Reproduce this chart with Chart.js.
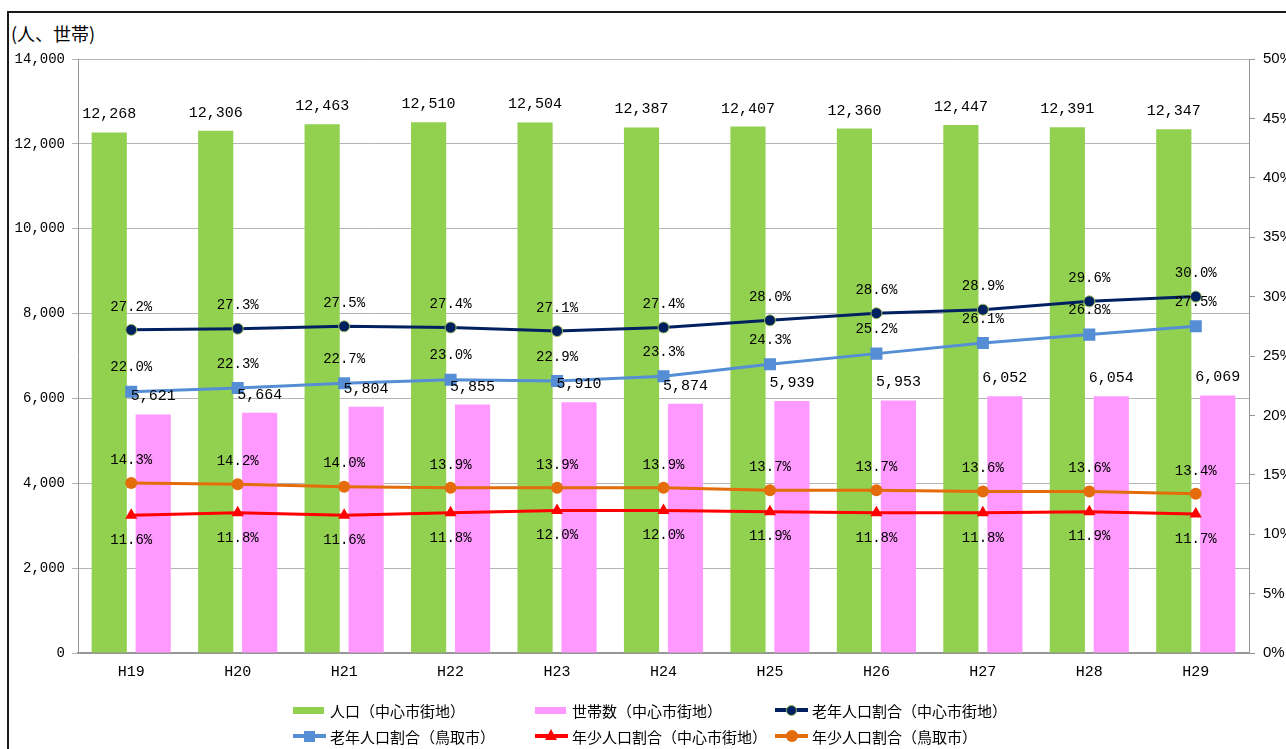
<!DOCTYPE html>
<html lang="ja">
<head>
<meta charset="utf-8">
<script src="https://cdn.jsdelivr.net/npm/chart.js@4.4.1/dist/chart.umd.min.js"></script>
<style>
  html, body { margin: 0; padding: 0; background: #fff; overflow: hidden; }
  #wrap { position: relative; width: 1286px; height: 749px; }
  #frame { position: absolute; left: 7px; top: 11px; width: 1300px; height: 760px;
           border-left: 2px solid #1a1a1a; border-top: 2px solid #1a1a1a; }
  #unit { position: absolute; left: 11px; top: 20px; font: 18px "Noto Sans CJK JP"; color: #000; }
  #chartBox { position: absolute; left: 0; top: 0; width: 1286px; height: 749px; }
  #legend { position: absolute; left: 0; top: 0; width: 1286px; height: 749px; pointer-events: none;
            font: 15px "Noto Sans CJK JP"; color: #000; }
  .lg-item { position: absolute; display: flex; align-items: center; height: 22px; white-space: nowrap; }
  .lg-sw { position: relative; width: 33px; height: 22px; margin-right: 4px; }
  .lg-bar { position: absolute; left: 0; top: 8px; width: 31px; height: 7px; }
  .lg-line { position: absolute; left: 0; top: 9px; width: 33px; height: 4px; }
  .lg-mk { position: absolute; }
</style>
</head>
<body>
<div id="wrap">
  <div id="frame"></div>
  <div id="unit">(人、世帯)</div>
  <div id="chartBox"><canvas id="chart"></canvas></div>
  <div id="legend"></div>
</div>
<script>
// 年度
const years = ['H19', 'H20', 'H21', 'H22', 'H23', 'H24', 'H25', 'H26', 'H27', 'H28', 'H29'];

// 人口・世帯数（中心市街地）
const population = [12268, 12306, 12463, 12510, 12504, 12387, 12407, 12360, 12447, 12391, 12347];
const households = [5621, 5664, 5804, 5855, 5910, 5874, 5939, 5953, 6052, 6054, 6069];

// 年齢別人口割合（%）
const elderlyCenter = [27.2, 27.3, 27.5, 27.4, 27.1, 27.4, 28.0, 28.6, 28.9, 29.6, 30.0];
const elderlyCity = [22.0, 22.3, 22.7, 23.0, 22.9, 23.3, 24.3, 25.2, 26.1, 26.8, 27.5];
const youthCenter = [11.6, 11.8, 11.6, 11.8, 12.0, 12.0, 11.9, 11.8, 11.8, 11.9, 11.7];
const youthCity = [14.3, 14.2, 14.0, 13.9, 13.9, 13.9, 13.7, 13.7, 13.6, 13.6, 13.4];

// 軸目盛
const leftTicks = [0, 2000, 4000, 6000, 8000, 10000, 12000, 14000];
const rightTicks = [0, 5, 10, 15, 20, 25, 30, 35, 40, 45, 50];

const GRID = '#b4b4b4';
const AXIS = '#969696';
const numFont = '"Liberation Mono", "DejaVu Sans Mono", monospace';

function fmtNum(v) { return v.toLocaleString('en-US'); }
function fmtPct(v) { return v.toFixed(1) + '%'; }

// データラベル（棒の上・点の上下）
const valueLabels = {
  id: 'valueLabels',
  afterDatasetsDraw(chart) {
    const ctx = chart.ctx;
    chart.data.datasets.forEach((ds, i) => {
      const meta = chart.getDatasetMeta(i);
      if (meta.hidden) return;
      ctx.save();
      ctx.fillStyle = '#000';
      ctx.textAlign = 'center';
      ctx.textBaseline = 'middle';
      const pct = ds.yAxisID === 'y1';
      ctx.font = (pct ? '14px ' : '15px ') + numFont;
      meta.data.forEach((el, j) => {
        const v = ds.data[j];
        ctx.fillText(pct ? fmtPct(v) : fmtNum(v), el.x, el.y + ds.labelDy);
      });
      ctx.restore();
    });
  }
};

const lineBase = { type: 'line', yAxisID: 'y1', order: 1, borderWidth: 3, tension: 0, fill: false };

const chart = new Chart(document.getElementById('chart'), {
  data: {
    labels: years,
    datasets: [
      { type: 'bar', label: '人口（中心市街地）', data: population, yAxisID: 'y', order: 2,
        backgroundColor: '#92D050', barPercentage: 0.8, categoryPercentage: 0.826, labelDy: -18 },
      { type: 'bar', label: '世帯数（中心市街地）', data: households, yAxisID: 'y', order: 2,
        backgroundColor: '#FF99FF', barPercentage: 0.8, categoryPercentage: 0.826, labelDy: -18 },
      { ...lineBase, label: '老年人口割合（中心市街地）', data: elderlyCenter,
        borderColor: '#002060', backgroundColor: '#002060',
        pointStyle: 'circle', pointRadius: 5.5, pointBorderColor: '#9BBB59', pointBorderWidth: 1,
        pointBackgroundColor: '#002060', labelDy: -23 },
      { ...lineBase, label: '老年人口割合（鳥取市）', data: elderlyCity,
        borderColor: '#558ED5', backgroundColor: '#558ED5',
        pointStyle: 'rect', pointRadius: 8.5, pointBorderWidth: 0,
        pointBackgroundColor: '#558ED5', labelDy: -24 },
      { ...lineBase, label: '年少人口割合（中心市街地）', data: youthCenter,
        borderColor: '#FF0000', backgroundColor: '#FF0000',
        pointStyle: 'triangle', pointRadius: 7, pointBorderWidth: 0,
        pointBackgroundColor: '#FF0000', labelDy: 25 },
      { ...lineBase, label: '年少人口割合（鳥取市）', data: youthCity,
        borderColor: '#E46C0A', backgroundColor: '#E46C0A',
        pointStyle: 'circle', pointRadius: 6, pointBorderWidth: 0,
        pointBackgroundColor: '#E46C0A', labelDy: -23 }
    ]
  },
  options: {
    responsive: true,
    maintainAspectRatio: false,
    animation: false,
    layout: { padding: { top: 59, left: 0, right: 0, bottom: 0 } },
    plugins: {
      legend: { display: false },
      tooltip: { enabled: false }
    },
    scales: {
      x: {
        grid: { display: false, drawTicks: false },
        border: { display: true, color: AXIS, width: 2 },
        ticks: { color: '#000', padding: 10, font: { family: numFont, size: 15 } },
        afterFit: s => { s.height = 96; }
      },
      y: {
        position: 'left',
        min: 0, max: 14000,
        afterBuildTicks: s => { s.ticks = leftTicks.map(v => ({ value: v })); },
        grid: { color: GRID, lineWidth: 1, tickLength: 6, drawTicks: true },
        border: { display: true, color: AXIS, width: 1 },
        ticks: { color: '#000', padding: 7, font: { family: numFont, size: 14 },
                 callback: v => fmtNum(v) },
        afterFit: s => { s.width = 78; }
      },
      y1: {
        position: 'right',
        min: 0, max: 50,
        afterBuildTicks: s => { s.ticks = rightTicks.map(v => ({ value: v })); },
        grid: { drawOnChartArea: false, color: AXIS, tickLength: 6, drawTicks: true },
        border: { display: true, color: AXIS, width: 1 },
        ticks: { color: '#000', padding: 8, font: { family: '"Liberation Sans", Arial, sans-serif', size: 15 },
                 callback: v => v + '%' },
        afterFit: s => { s.width = 37; }
      }
    }
  },
  plugins: [valueLabels]
});

// 凡例（3列×2行）
const legendCols = [293, 535, 775];
const legendRows = [710, 736];
const legendOrder = [0, 1, 2, 3, 4, 5];
const legendEl = document.getElementById('legend');
legendOrder.forEach((di, k) => {
  const ds = chart.data.datasets[di];
  const item = document.createElement('div');
  item.className = 'lg-item';
  item.style.left = legendCols[k % 3] + 'px';
  item.style.top = (legendRows[Math.floor(k / 3)] - 11) + 'px';
  const sw = document.createElement('div');
  sw.className = 'lg-sw';
  if (ds.type === 'bar') {
    const b = document.createElement('div');
    b.className = 'lg-bar';
    b.style.background = ds.backgroundColor;
    sw.appendChild(b);
  } else {
    const l = document.createElement('div');
    l.className = 'lg-line';
    l.style.background = ds.borderColor;
    sw.appendChild(l);
    const m = document.createElement('div');
    m.className = 'lg-mk';
    const c = ds.pointBackgroundColor;
    if (ds.pointStyle === 'rect') {
      Object.assign(m.style, { left: '11px', top: '6px', width: '11px', height: '11px', background: c });
    } else if (ds.pointStyle === 'triangle') {
      Object.assign(m.style, { left: '10px', top: '4px', width: '0', height: '0',
        borderLeft: '6px solid transparent', borderRight: '6px solid transparent', borderBottom: '11px solid ' + c });
    } else {
      const d = ds.pointRadius * 2;
      Object.assign(m.style, { left: (16.5 - d / 2) + 'px', top: (11 - d / 2) + 'px', width: d + 'px', height: d + 'px',
        borderRadius: '50%', background: c, boxSizing: 'border-box' });
      if (ds.pointBorderWidth) m.style.border = ds.pointBorderWidth + 'px solid ' + ds.pointBorderColor;
    }
    sw.appendChild(m);
  }
  item.appendChild(sw);
  const t = document.createElement('span');
  t.textContent = ds.label;
  item.appendChild(t);
  legendEl.appendChild(item);
});
</script>
</body>
</html>
